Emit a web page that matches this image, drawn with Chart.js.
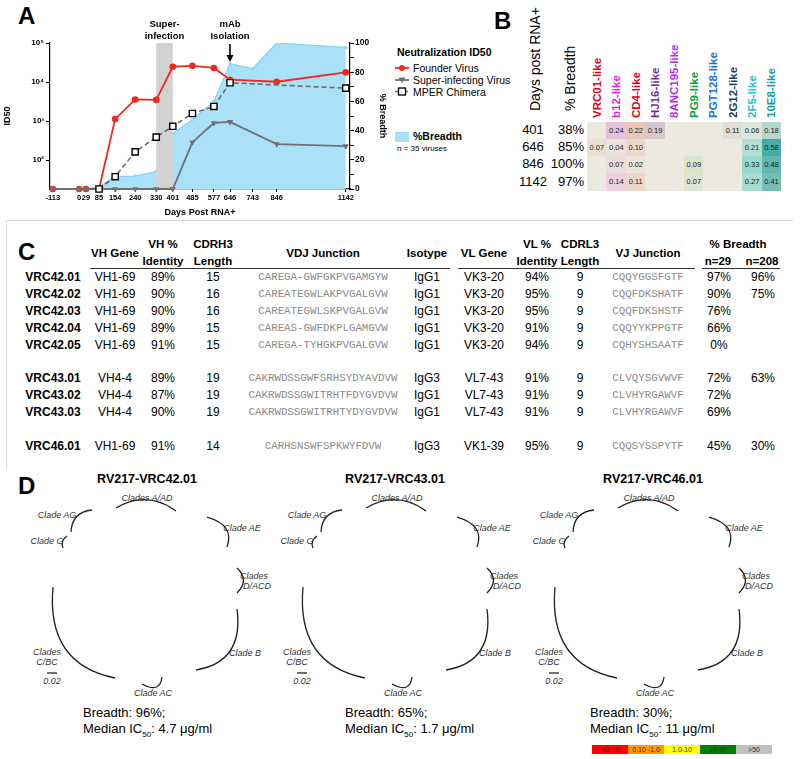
<!DOCTYPE html>
<html>
<head>
<meta charset="utf-8">
<script src="https://cdn.jsdelivr.net/npm/chart.js@4.4.1/dist/chart.umd.min.js"></script>
<style>
  body { margin: 0; background: #fff; font-family: "Liberation Sans", Arial, sans-serif; color: #000; }
  #page { position: relative; width: 800px; height: 759px; overflow: hidden; }
  .abs { position: absolute; white-space: nowrap; }
  .big { font-weight: bold; font-size: 24px; }
  .rot { position: absolute; white-space: nowrap; transform: rotate(-90deg); transform-origin: 0 0; }
  .mono { font-family: "Liberation Mono", "Courier New", monospace; color: #8a8a8a; font-size: 10.8px; }
  .clade { font-style: italic; font-size: 9px; color: #333; transform: translate(-50%, -50%); }
  #boxC { position: absolute; left: 6px; top: 220px; width: 786px; height: 248px; border: 1px solid #dedede; border-right: none; border-bottom: none; }
</style>
</head>
<body>
<div id="page">
  <div class="abs big" style="left:18px;top:2px">A</div>
  <div class="abs" style="left:0;top:0;width:390px;height:218px"><canvas id="chartA"></canvas></div>
  <div id="legendA"></div>

  <div class="abs big" style="left:494px;top:7px">B</div>
  <div id="panelB"></div>

  <div id="boxC"></div>
  <div class="abs big" style="left:18px;top:238px">C</div>
  <div id="panelC"></div>

  <div class="abs big" style="left:18px;top:472px">D</div>
  <div id="panelD"></div>
</div>

<script>
// -------------------------------
// Panel A data
// -------------------------------
const days = [-113, 0, 29, 85, 154, 240, 330, 401, 485, 577, 646, 743, 846, 1142];
const dayTicks = [-113, 0, 29, 85, 154, 240, 330, 401, 485, 577, 646, 743, 846, 1142];
const ID50_MIN = 18.4;
const founderVirus = [ID50_MIN, ID50_MIN, ID50_MIN, ID50_MIN, 1130, 3600, 3500, 24700, 26000, 23000, 11500, null, 10200, 17700];
const superVirus = [ID50_MIN, ID50_MIN, ID50_MIN, ID50_MIN, ID50_MIN, ID50_MIN, ID50_MIN, ID50_MIN, 290, 900, 960, null, 260, 230];
const mperChimera = [null, null, null, ID50_MIN, 38, 164, 390, 740, 1570, 2380, 9600, null, null, 7000];
const breadthPct = [0, 0, 0, 1.6, 8.5, 8.9, 11.9, 38, 47.4, 60, 85.8, 82.4, 100, 97];
const logTicks = [100, 1000, 10000, 100000];
const logLabels = ["10\u00B2", "10\u00B3", "10\u2074", "10\u2075"];

// -------------------------------
// Panel B data
// -------------------------------
const bDays = [401, 646, 846, 1142];
const bBreadth = ["38%", "85%", "100%", "97%"];
const bClasses = ["VRC01-like", "b12-like", "CD4-like", "HJ16-like", "8ANC195-like", "PG9-like", "PGT128-like", "2G12-like", "2F5-like", "10E8-like"];
const bValues = [
  [null, 0.24, 0.22, 0.19, null, null, null, 0.11, 0.06, 0.18],
  [0.07, 0.04, 0.10, null, null, null, null, null, 0.21, 0.58],
  [null, 0.07, 0.02, null, null, 0.09, null, null, 0.33, 0.48],
  [null, 0.14, 0.11, null, null, 0.07, null, null, 0.27, 0.41],
];

// -------------------------------
// Panel C data
// -------------------------------
const cNames = ["VRC42.01", "VRC42.02", "VRC42.03", "VRC42.04", "VRC42.05", "", "VRC43.01", "VRC43.02", "VRC43.03", "", "VRC46.01"];
const cVH = ["VH1-69", "VH1-69", "VH1-69", "VH1-69", "VH1-69", "", "VH4-4", "VH4-4", "VH4-4", "", "VH1-69"];
const cVHid = ["89%", "90%", "90%", "89%", "91%", "", "89%", "87%", "90%", "", "91%"];
const cCDRH3 = ["15", "16", "16", "15", "15", "", "19", "19", "19", "", "14"];
const cVDJ = ["CAREGA-GWFGKPVGAMGYW", "CAREATEGWLAKPVGALGVW", "CAREATEGWLSKPVGALGVW", "CAREAS-GWFDKPLGAMGVW", "CAREGA-TYHGKPVGALGVW", "",
  "CAKRWDSSGWFSRHSYDYAVDVW", "CAKRWDSSGWITRHTFDYGVDVW", "CAKRWDSSGWITRHTYDYGVDVW", "", "CARHSNSWFSPKWYFDVW"];
const cIso = ["IgG1", "IgG1", "IgG1", "IgG1", "IgG1", "", "IgG3", "IgG1", "IgG1", "", "IgG3"];
const cVL = ["VK3-20", "VK3-20", "VK3-20", "VK3-20", "VK3-20", "", "VL7-43", "VL7-43", "VL7-43", "", "VK1-39"];
const cVLid = ["94%", "95%", "95%", "91%", "94%", "", "91%", "91%", "91%", "", "95%"];
const cCDRL3 = ["9", "9", "9", "9", "9", "", "9", "9", "9", "", "9"];
const cVJ = ["CQQYGGSFGTF", "CQQFDKSHATF", "CQQFDKSHSTF", "CQQYYKPPGTF", "CQHYSHSAATF", "", "CLVQYSGVWVF", "CLVHYRGAWVF", "CLVHYRGAWVF", "", "CQQSYSSPYTF"];
const cB29 = ["97%", "90%", "76%", "66%", "0%", "", "72%", "72%", "69%", "", "45%"];
const cB208 = ["96%", "75%", "", "", "", "", "63%", "", "", "", "30%"];

// -------------------------------
// Panel D data
// -------------------------------
const dTitles = ["RV217-VRC42.01", "RV217-VRC43.01", "RV217-VRC46.01"];
const dBreadth = ["96%", "65%", "30%"];
const dMedian = ["4.7", "1.7", "11"];
const icBins = ["<0.10", "0.10 -1.0", "1.0-10", "10-50", ">50"];
const icColors = ["#ff0000", "#ff9900", "#ffff00", "#008000", "#c0c0c0"];

// -------------------------------
// Chart A
// -------------------------------
const pts = (arr) => days.map((d, i) => ({ x: d, y: arr[i] })).filter((p) => p.y !== null);
const tickFont = { family: "Liberation Sans", size: 8, weight: "bold" };
const titleFont = { family: "Liberation Sans", size: 9, weight: "bold" };

const annotations = {
  id: "annotations",
  afterDatasetDraw(chart, args) {
    // grey super-infection window drawn over the breadth area, under the lines
    if (args.index !== 0) return;
    const { ctx, chartArea } = chart;
    const x = chart.scales.x;
    const x1 = x.getPixelForValue(330), x2 = x.getPixelForValue(401);
    ctx.save();
    ctx.fillStyle = "#d2d2d2";
    ctx.fillRect(x1, chartArea.top, x2 - x1, chartArea.bottom - chartArea.top);
    ctx.restore();
  },
  afterDraw(chart) {
    const { ctx, chartArea } = chart;
    const x = chart.scales.x;
    const band = (x.getPixelForValue(330) + x.getPixelForValue(401)) / 2;
    const iso = x.getPixelForValue(646);
    ctx.save();
    ctx.fillStyle = "#000";
    ctx.font = "bold 9.5px 'Liberation Sans'";
    ctx.textAlign = "center";
    ctx.textBaseline = "middle";
    ctx.fillText("Super-", band, 24);
    ctx.fillText("infection", band, 36);
    ctx.fillText("mAb", iso, 24);
    ctx.fillText("Isolation", iso, 36);
    // arrow
    ctx.strokeStyle = "#000";
    ctx.lineWidth = 1.6;
    ctx.beginPath();
    ctx.moveTo(iso, chartArea.top + 1);
    ctx.lineTo(iso, chartArea.top + 15);
    ctx.stroke();
    ctx.beginPath();
    ctx.moveTo(iso - 3.5, chartArea.top + 12);
    ctx.lineTo(iso, chartArea.top + 19);
    ctx.lineTo(iso + 3.5, chartArea.top + 12);
    ctx.closePath();
    ctx.fill();
    ctx.restore();
  },
};

new Chart(document.getElementById("chartA"), {
  type: "line",
  data: {
    datasets: [
      {
        label: "%Breadth",
        data: pts(breadthPct),
        yAxisID: "y2",
        fill: "origin",
        backgroundColor: "#abe1f8",
        borderColor: "#7fd3f4",
        borderWidth: 1.2,
        pointRadius: 1.8,
        pointBackgroundColor: "#8fd8f6",
        pointBorderWidth: 0,
        order: 10,
      },
      {
        label: "Founder Virus",
        data: pts(founderVirus),
        yAxisID: "y",
        borderColor: "#f0281e",
        backgroundColor: "#f0281e",
        borderWidth: 1.8,
        pointRadius: 3.3,
        pointBorderWidth: 0,
        clip: false,
        order: 3,
      },
      {
        label: "Super-infecting Virus",
        data: pts(superVirus),
        yAxisID: "y",
        borderColor: "#707070",
        backgroundColor: "#707070",
        borderWidth: 1.8,
        pointStyle: "triangle",
        rotation: 180,
        pointRadius: 3.6,
        pointBorderWidth: 0,
        clip: false,
        order: 2,
      },
      {
        label: "MPER Chimera",
        data: pts(mperChimera),
        yAxisID: "y",
        borderColor: "#666",
        borderDash: [5, 3],
        borderWidth: 1.5,
        pointStyle: "rect",
        pointRadius: 4.4,
        pointBackgroundColor: "#fff",
        pointBorderColor: "#000",
        pointBorderWidth: 1.4,
        clip: false,
        order: 1,
      },
    ],
  },
  options: {
    responsive: true,
    maintainAspectRatio: false,
    animation: false,
    layout: { padding: { left: 0, right: 0, top: 43, bottom: 0 } },
    plugins: { legend: { display: false }, tooltip: { enabled: false } },
    elements: { line: { tension: 0 } },
    scales: {
      x: {
        type: "linear",
        min: -125,
        max: 1160,
        afterBuildTicks: (s) => { s.ticks = dayTicks.map((v) => ({ value: v })); },
        afterFit: (s) => { s.height = 29; },
        ticks: { autoSkip: false, maxRotation: 0, font: { ...tickFont, size: 7.5 }, color: "#000", padding: 1, callback: (v) => String(v) },
        grid: { display: true, drawOnChartArea: false, tickLength: 3, color: "#000" },
        border: { color: "#000", width: 1.2 },
        title: { display: true, text: "Days Post RNA+", font: titleFont, color: "#000", padding: 0 },
      },
      y: {
        type: "logarithmic",
        position: "left",
        min: ID50_MIN,
        max: 100000,
        afterBuildTicks: (s) => { s.ticks = logTicks.map((v) => ({ value: v })); },
        afterFit: (s) => { s.width = 50; },
        ticks: { font: tickFont, color: "#000", padding: 2, callback: (v) => logLabels[logTicks.indexOf(v)] || "" },
        grid: { display: true, drawOnChartArea: false, tickLength: 4, color: "#000" },
        border: { color: "#000", width: 1.2 },
        title: { display: true, text: "ID50", font: titleFont, color: "#000", padding: 2 },
      },
      y2: {
        type: "linear",
        position: "right",
        min: 0,
        max: 100,
        afterFit: (s) => { s.width = 40; },
        ticks: { stepSize: 10, font: { ...tickFont, size: 8.5 }, color: "#000", padding: 1, callback: (v) => (v % 20 === 0 ? v : "") },
        grid: { display: true, drawOnChartArea: false, tickLength: 4, color: "#000" },
        border: { color: "#000", width: 1.2 },
        title: { display: true, text: "% Breadth", font: titleFont, color: "#000", padding: 2 },
      },
    },
  },
  plugins: [annotations],
});

// legend for A
const legendA = document.getElementById("legendA");
legendA.innerHTML = `
  <div class="abs" style="left:397px;top:46px;font-weight:bold;font-size:10.5px">Neutralization ID50</div>
  <svg class="abs" style="left:394px;top:62px" width="16" height="36">
    <line x1="1" y1="6" x2="15" y2="6" stroke="#f0281e" stroke-width="1.8"/><circle cx="8" cy="6" r="3" fill="#f0281e"/>
    <line x1="1" y1="18" x2="15" y2="18" stroke="#707070" stroke-width="1.8"/><path d="M4.5,15.5 L11.5,15.5 L8,21 Z" fill="#707070"/>
    <line x1="1" y1="29.5" x2="15" y2="29.5" stroke="#666" stroke-width="1.5" stroke-dasharray="3,2"/><rect x="4.5" y="26" width="7" height="7" fill="#fff" stroke="#000" stroke-width="1.3"/>
  </svg>
  <div class="abs" style="left:413px;top:62px;font-size:10.5px">Founder Virus</div>
  <div class="abs" style="left:413px;top:74px;font-size:10.5px">Super-infecting Virus</div>
  <div class="abs" style="left:413px;top:85.5px;font-size:10.5px">MPER Chimera</div>
  <div class="abs" style="left:395px;top:132px;width:14px;height:9px;background:#abe1f8;border-top:1.5px solid #8fd8f6"></div>
  <div class="abs" style="left:413px;top:130px;font-weight:bold;font-size:10.5px">%Breadth</div>
  <div class="abs" style="left:397px;top:144px;font-size:8px">n = 35 viruses</div>
`;

// -------------------------------
// Panel B heat table
// -------------------------------
const headColors = ["#e3001b", "#e21fd2", "#e3001b", "#7030a0", "#b030f0", "#00a040", "#1a70d8", "#1a3a70", "#20c4c4", "#109c9c"];
const hueColors = ["#d88466", "#e070d8", "#e07a60", "#9a6aa6", "#b060e0", "#6abf6a", "#4a8ae0", "#9a9a9a", "#35c6b3", "#1f9c9a"];
const baseCell = [236, 233, 222];
function hexRgb(h) { return [1, 3, 5].map((i) => parseInt(h.slice(i, i + 2), 16)); }
function cellColor(v, col) {
  if (v === null) return `rgb(${baseCell.join(",")})`;
  const f = Math.min(1, v * 1.4);
  const c = hexRgb(hueColors[col]);
  const m = c.map((ch, k) => Math.round(baseCell[k] * (1 - f) + ch * f));
  return `rgb(${m.join(",")})`;
}
const cellX0 = 587, cellW = 19.4, cellY0 = 121.7, cellH = 17.1;
let bHtml = "";
bHtml += `<div class="rot" style="left:527px;top:111px;font-size:14px;line-height:16px">Days post RNA+</div>`;
bHtml += `<div class="rot" style="left:562px;top:111px;font-size:14px;line-height:16px">% Breadth</div>`;
bClasses.forEach((name, i) => {
  const cx = cellX0 + cellW * (i + 0.5);
  bHtml += `<div class="rot" style="left:${cx - 7}px;top:118px;font-size:11.5px;line-height:14px;font-weight:bold;color:${headColors[i]}">${name}</div>`;
});
bDays.forEach((d, r) => {
  const cy = cellY0 + cellH * (r + 0.5);
  bHtml += `<div class="abs" style="left:503px;width:60px;text-align:center;top:${cy - 8}px;font-size:13px;line-height:16px">${d}</div>`;
  bHtml += `<div class="abs" style="left:534px;width:50px;text-align:right;top:${cy - 8}px;font-size:13px;line-height:16px">${bBreadth[r]}</div>`;
  bValues[r].forEach((v, c) => {
    bHtml += `<div class="abs" style="left:${cellX0 + cellW * c}px;top:${cellY0 + cellH * r}px;width:${cellW + 0.4}px;height:${cellH + 0.4}px;background:${cellColor(v, c)};font-size:7.5px;line-height:${cellH}px;text-align:center;color:#222">${v === null ? "" : v.toFixed(2)}</div>`;
  });
});
document.getElementById("panelB").innerHTML = bHtml;

// -------------------------------
// Panel C table
// -------------------------------
const cCols = [
  { data: cNames, cx: 53, bold: true },
  { data: cVH, cx: 115 },
  { data: cVHid, cx: 163 },
  { data: cCDRH3, cx: 213 },
  { data: cVDJ, cx: 323, mono: true },
  { data: cIso, cx: 427 },
  { data: cVL, cx: 484 },
  { data: cVLid, cx: 537 },
  { data: cCDRL3, cx: 580 },
  { data: cVJ, cx: 648, mono: true },
  { data: cB29, cx: 719 },
  { data: cB208, cx: 763 },
];
const cHeads = [
  { t: ["VH Gene"], cx: 115 }, { t: ["VH %", "Identity"], cx: 163 }, { t: ["CDRH3", "Length"], cx: 213 },
  { t: ["VDJ Junction"], cx: 323 }, { t: ["Isotype"], cx: 427 }, { t: ["VL Gene"], cx: 484 },
  { t: ["VL %", "Identity"], cx: 537 }, { t: ["CDRL3", "Length"], cx: 580 }, { t: ["VJ Junction"], cx: 648 },
  { t: ["% Breadth"], cx: 738, top: true }, { t: ["n=29"], cx: 718, bottom: true }, { t: ["n=208"], cx: 762, bottom: true },
];
let cHtml = "";
cHeads.forEach((h) => {
  let tops;
  if (h.t.length === 2) tops = [237, 254];
  else if (h.top) tops = [237];
  else if (h.bottom) tops = [254];
  else tops = [246];
  h.t.forEach((line, k) => {
    cHtml += `<div class="abs" style="left:${h.cx - 40}px;width:80px;text-align:center;top:${tops[k]}px;font-size:11.5px;line-height:14px;font-weight:bold">${line}</div>`;
  });
});
[[90, 450], [458, 695], [702, 780]].forEach(([a, b]) => {
  cHtml += `<div class="abs" style="left:${a}px;top:268px;width:${b - a}px;height:0;border-top:1.3px solid #333"></div>`;
});
cNames.forEach((n, r) => {
  if (!n) return;
  const cy = 277 + r * 16.9;
  cCols.forEach((col) => {
    const cls = col.mono ? "abs mono" : "abs";
    const style = col.mono ? "" : `font-size:12px;${col.bold ? "font-weight:bold;" : ""}`;
    cHtml += `<div class="${cls}" style="left:${col.cx - 80}px;width:160px;text-align:center;top:${cy - 8}px;line-height:16px;${style}">${col.data[r]}</div>`;
  });
});
document.getElementById("panelC").innerHTML = cHtml;

// -------------------------------
// Panel D labels (trees not reproduced)
// -------------------------------
const treeShift = [0, 250, 502];
const titleCx = [147, 395, 653];
const textLeft = [83, 345, 590];
const cladeLabels = [
  ["Clades A/AD", 147, 498], ["Clade AG", 57, 515], ["Clade G", 47, 541], ["Clade AE", 242, 528],
  ["Clades", 254, 576], ["D/ACD", 257, 586], ["Clade B", 245, 653], ["Clades", 47, 652], ["C/BC", 47, 662],
  ["0.02", 52, 681], ["Clade AC", 153, 693],
];
const arcPaths = [
  "M116,508 Q147,490 176,511", "M71,532 Q72,512 92,510", "M67,536 Q60,541 63,548", "M207,517 Q235,525 227,547",
  "M237,568 Q250,580 237,593", "M237,609 Q244,662 196,670", "M53,587 Q46,664 115,678", "M142,684 Q160,694 162,677",
  "M47,673 L57,673",
];
let dHtml = "";
dTitles.forEach((t, k) => {
  const s = treeShift[k];
  dHtml += `<div class="abs" style="left:${titleCx[k] - 80}px;width:160px;text-align:center;top:472px;font-weight:bold;font-size:12.5px">${t}</div>`;
  cladeLabels.forEach(([txt, x, y]) => {
    dHtml += `<div class="abs clade" style="left:${x + s}px;top:${y}px">${txt}</div>`;
  });
  dHtml += `<div class="abs" style="left:${textLeft[k]}px;top:705px;font-size:13px;line-height:16px">Breadth: ${dBreadth[k]};<br>Median IC<sub style="font-size:8px">50</sub>: ${dMedian[k]} \u03BCg/ml</div>`;
});
let svg = `<svg class="abs" style="left:0;top:0" width="800" height="759">`;
treeShift.forEach((s) => {
  svg += `<g transform="translate(${s},0)" fill="none" stroke="#222" stroke-width="1.3">`;
  arcPaths.forEach((p) => { svg += `<path d="${p}"/>`; });
  svg += `</g>`;
});
svg += `</svg>`;
dHtml += svg;
icBins.forEach((b, i) => {
  dHtml += `<div class="abs" style="left:${592 + i * 36}px;top:745px;width:36px;height:9px;background:${icColors[i]};font-size:7px;line-height:9px;text-align:center;color:${i === 0 ? "#600" : "#333"}">${b}</div>`;
});
document.getElementById("panelD").innerHTML = dHtml;
</script>
</body>
</html>
